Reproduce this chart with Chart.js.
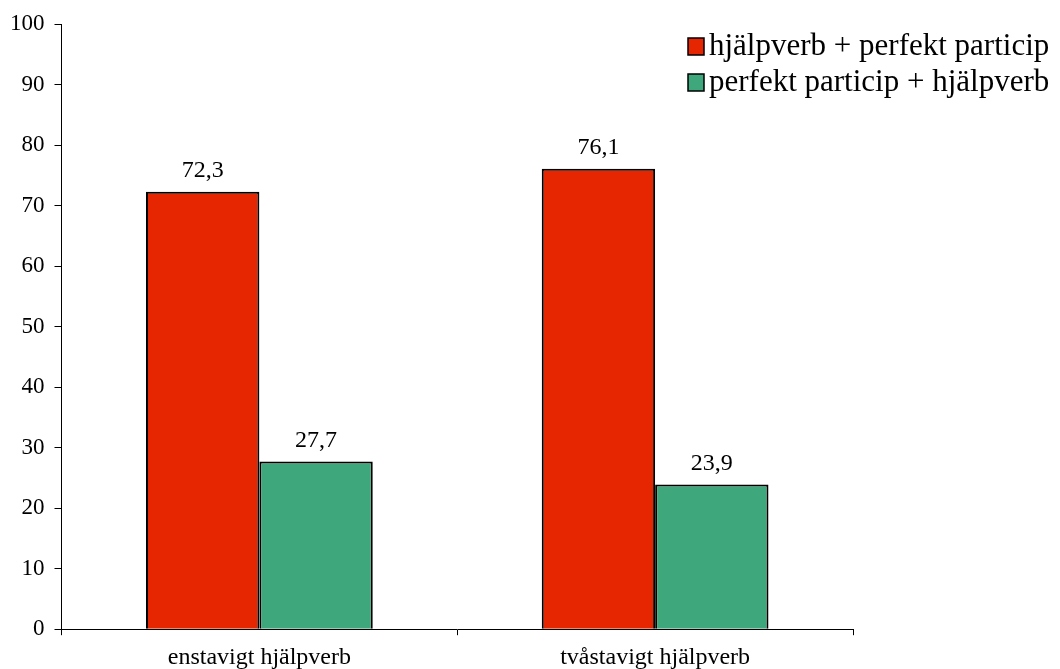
<!DOCTYPE html>
<html>
<head>
<meta charset="utf-8">
<script src="https://cdn.jsdelivr.net/npm/chart.js@4"></script>
<style>
  html, body { margin: 0; padding: 0; background: #fff; }
  #wrap { width: 1060px; height: 669px; position: relative; }
</style>
</head>
<body>
<div id="wrap"><canvas id="chart"></canvas></div>
<script>
const categories = ['enstavigt hjälpverb', 'tvåstavigt hjälpverb'];
const seriesNames = ['hjälpverb + perfekt particip', 'perfekt particip + hjälpverb'];
const auxFirst = [72.3, 76.1];
const participleFirst = [27.7, 23.9];
const yTicks = [0, 10, 20, 30, 40, 50, 60, 70, 80, 90, 100];

const RED = '#E52600';
const GREEN = '#3FA77C';
const FONT = "'Liberation Serif', 'Times New Roman', serif";

// numbers over bars, swedish decimal comma
const valueLabels = {
  id: 'valueLabels',
  afterDatasetsDraw(chart) {
    const { ctx } = chart;
    ctx.save();
    ctx.font = '24px ' + FONT;
    ctx.fillStyle = '#000';
    ctx.textAlign = 'center';
    ctx.textBaseline = 'alphabetic';
    chart.data.datasets.forEach((ds, i) => {
      chart.getDatasetMeta(i).data.forEach((bar, j) => {
        const txt = ds.data[j].toFixed(1).replace('.', ',');
        ctx.fillText(txt, bar.x, bar.y - 15);
      });
    });
    ctx.restore();
  }
};

// legend in the top right corner
const cornerLegend = {
  id: 'cornerLegend',
  afterDraw(chart) {
    const { ctx } = chart;
    ctx.save();
    ctx.font = '31px ' + FONT;
    ctx.textBaseline = 'alphabetic';
    chart.data.datasets.forEach((ds, i) => {
      const base = 55 + i * 36;
      ctx.fillStyle = ds.backgroundColor;
      ctx.fillRect(688, base - 17, 16, 17);
      ctx.strokeStyle = '#000';
      ctx.lineWidth = 1.5;
      ctx.strokeRect(688, base - 17, 16, 17);
      ctx.fillStyle = '#000';
      ctx.fillText(ds.label, 709, base);
    });
    ctx.restore();
  }
};

new Chart(document.getElementById('chart'), {
  type: 'bar',
  data: {
    labels: categories,
    datasets: [
      {
        label: seriesNames[0],
        data: auxFirst,
        backgroundColor: RED,
        borderColor: '#000',
        borderWidth: 2,
        barPercentage: 1,
        categoryPercentage: 0.573
      },
      {
        label: seriesNames[1],
        data: participleFirst,
        backgroundColor: GREEN,
        borderColor: '#000',
        borderWidth: 2,
        barPercentage: 1,
        categoryPercentage: 0.573
      }
    ]
  },
  options: {
    responsive: true,
    maintainAspectRatio: false,
    animation: false,
    layout: { padding: { left: 0, right: 207, top: 24, bottom: -11 } },
    plugins: {
      legend: { display: false },
      tooltip: { enabled: false }
    },
    scales: {
      x: {
        grid: {
          offset: true,
          drawOnChartArea: false,
          drawTicks: true,
          tickLength: 6,
          color: '#000'
        },
        border: { color: '#000', width: 1 },
        ticks: {
          color: '#000',
          font: { family: FONT, size: 24 },
          padding: 8,
          maxRotation: 0
        }
      },
      y: {
        min: 0,
        max: 100,
        afterBuildTicks(axis) {
          axis.ticks = yTicks.map(v => ({ value: v }));
        },
        grid: {
          drawOnChartArea: false,
          drawTicks: true,
          tickLength: 7,
          color: '#000'
        },
        border: { color: '#000', width: 1 },
        ticks: {
          color: '#000',
          font: { family: FONT, size: 23 },
          padding: 10
        }
      }
    }
  },
  plugins: [valueLabels, cornerLegend]
});
</script>
</body>
</html>
